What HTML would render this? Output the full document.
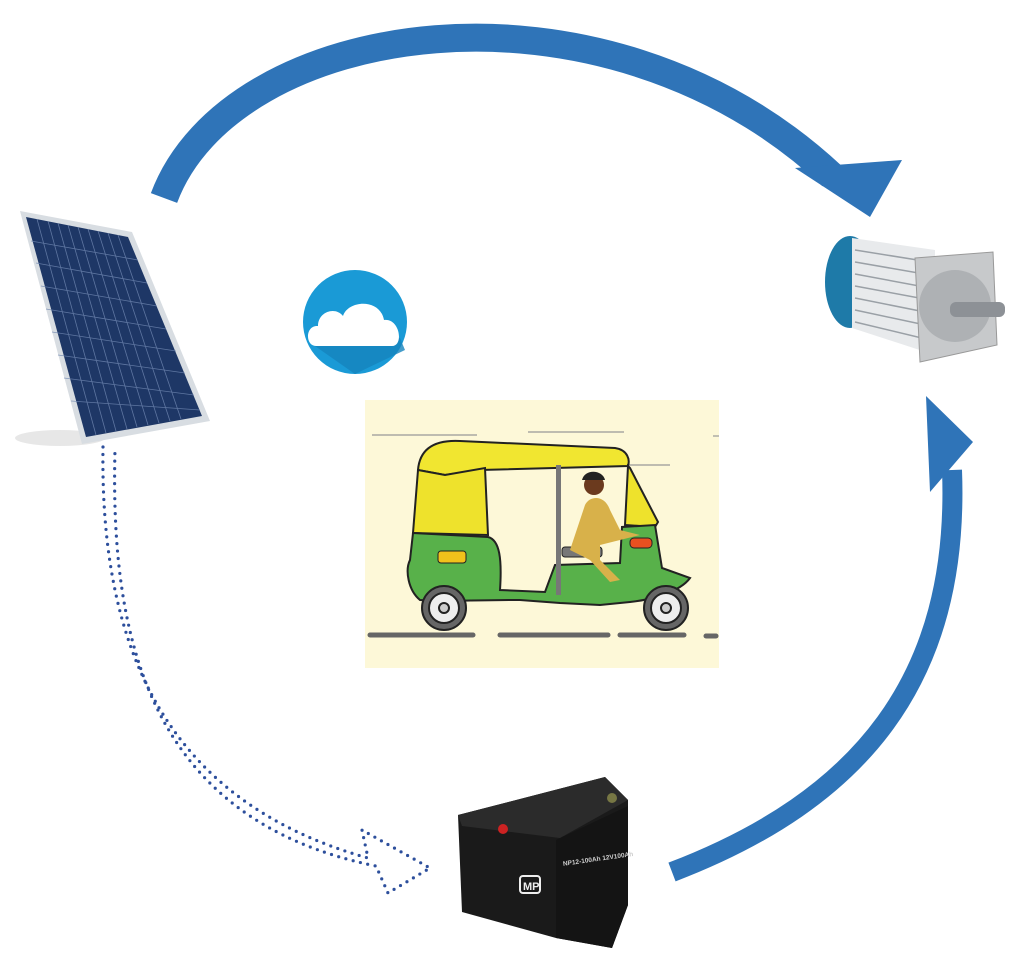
<!DOCTYPE html>
<html><head><meta charset="utf-8"><style>
html,body{margin:0;padding:0;background:#fff;}
svg{display:block;}
</style></head><body>
<svg width="1024" height="954" viewBox="0 0 1024 954" xmlns="http://www.w3.org/2000/svg">
<!-- top arrow -->
<path d="M164,198 C230,20 600,-40 832,176" fill="none" stroke="#2f74b8" stroke-width="28"/>
<polygon points="795,168 902,160 870,217" fill="#2f74b8"/>
<!-- right arrow -->
<path d="M672,872 C860,800 960,680 952,470" fill="none" stroke="#2f74b8" stroke-width="20"/>
<polygon points="926,396 973,442 930,492" fill="#2f74b8"/>
<!-- dotted arrow -->
<path d="M103,447 C100,640 160,800 368,858 L362,830 L430,868 L388,893 L376,866 C150,820 110,640 115,450" fill="none" stroke="#2d4f9c" stroke-width="3.2" stroke-linecap="round" stroke-dasharray="0 7.5"/>
<!-- solar panel -->
<ellipse cx="60" cy="438" rx="45" ry="8" fill="#ddd" opacity="0.7"/>
<polygon points="20,211 132,232 210,421 82,444" fill="#d8dde2"/>
<polygon points="26,217 128,237 202,416 86,437" fill="#1e3766"/>
<g stroke="#6f86b0" stroke-width="0.8" opacity="0.8">
<line x1="37" y1="219" x2="96" y2="435"/><line x1="48" y1="221" x2="106" y2="433"/><line x1="58" y1="223" x2="116" y2="431"/><line x1="68" y1="225" x2="127" y2="429"/><line x1="78" y1="227" x2="137" y2="427"/><line x1="88" y1="229" x2="148" y2="425"/><line x1="98" y1="231" x2="159" y2="423"/><line x1="108" y1="233" x2="170" y2="421"/><line x1="118" y1="235" x2="181" y2="419"/>
<line x1="31" y1="241" x2="138" y2="260"/><line x1="36" y1="263" x2="147" y2="283"/><line x1="41" y1="286" x2="157" y2="306"/><line x1="46" y1="309" x2="166" y2="329"/><line x1="52" y1="332" x2="176" y2="351"/><line x1="58" y1="355" x2="185" y2="373"/><line x1="64" y1="378" x2="194" y2="395"/><line x1="71" y1="401" x2="200" y2="410"/>
</g>
<!-- cloud icon -->
<circle cx="355" cy="322" r="52" fill="#1a9ad6"/>
<path d="M315,346 L355,374 L405,350 L400,338 Z" fill="#1583bd" opacity="0.8"/>
<path d="M316,346 C305,346 305,325 318,326 C318,312 335,306 343,316 C348,300 380,298 384,320 C400,318 404,346 392,346 Z" fill="#fff"/>
<!-- rickshaw image -->
<rect x="365" y="400" width="354" height="268" fill="#fdf8d8"/>
<g stroke="#999" stroke-width="1.2"><line x1="372" y1="435" x2="477" y2="435"/><line x1="528" y1="432" x2="624" y2="432"/><line x1="629" y1="465" x2="670" y2="465"/><line x1="713" y1="436" x2="719" y2="436"/></g>
<g stroke="#666" stroke-width="5" stroke-linecap="round"><line x1="370" y1="635" x2="473" y2="635"/><line x1="500" y1="635" x2="608" y2="635"/><line x1="620" y1="635" x2="684" y2="635"/><line x1="706" y1="636" x2="716" y2="636"/></g>
<g stroke="#222" stroke-width="2">
<path d="M418,470 C420,445 440,440 460,441 L615,448 C628,450 630,460 628,466 L480,470 L445,475 Z" fill="#f1e630"/>
<path d="M418,470 L445,475 L485,468 L488,535 L413,533 Z" fill="#eee22c"/>
<path d="M628,466 L630,468 L658,522 L655,527 L625,525 Z" fill="#eee22c"/>
<path d="M413,533 L488,537 C500,540 502,560 500,590 L545,592 L555,565 L620,563 L622,527 L655,525 L662,568 L690,578 C680,592 650,600 630,602 L600,605 L560,603 L520,600 C470,600 440,602 420,600 C408,590 405,570 410,560 Z" fill="#58b14a"/>
<circle cx="444" cy="608" r="22" fill="#666"/><circle cx="444" cy="608" r="15" fill="#eee"/><circle cx="444" cy="608" r="5" fill="#ccc"/>
<circle cx="666" cy="608" r="22" fill="#666"/><circle cx="666" cy="608" r="15" fill="#eee"/><circle cx="666" cy="608" r="5" fill="#ccc"/>
</g>
<rect x="556" y="465" width="5" height="130" fill="#777"/>
<rect x="438" y="551" width="28" height="12" rx="3" fill="#f1c21b" stroke="#222"/>
<rect x="630" y="538" width="22" height="10" rx="4" fill="#e85020" stroke="#222"/>
<rect x="562" y="547" width="40" height="10" rx="3" fill="#777" stroke="#222"/>
<path d="M585,505 C590,495 605,495 610,510 L620,530 L640,535 L620,540 L600,545 L600,560 L620,580 L610,582 L590,560 L570,550 Z" fill="#d8b14a"/>
<circle cx="594" cy="485" r="10" fill="#6b3a1e"/><path d="M582,480 C585,468 603,470 605,480 Z" fill="#222"/>
<!-- motor -->
<ellipse cx="850" cy="282" rx="25" ry="46" fill="#1e7aa8"/>
<path d="M852,238 L935,250 L935,355 L852,328 Z" fill="#e8eaec"/>
<g stroke="#9aa0a6" stroke-width="1.5"><line x1="855" y1="250" x2="930" y2="262"/><line x1="855" y1="262" x2="930" y2="275"/><line x1="855" y1="274" x2="930" y2="288"/><line x1="855" y1="286" x2="930" y2="300"/><line x1="855" y1="298" x2="930" y2="313"/><line x1="855" y1="310" x2="930" y2="326"/><line x1="855" y1="322" x2="930" y2="340"/></g>
<polygon points="915,258 993,252 997,345 920,362" fill="#c7c9cb" stroke="#999"/>
<circle cx="955" cy="306" r="36" fill="#aeb1b4"/>
<rect x="950" y="302" width="55" height="15" rx="6" fill="#8d9196"/>
<!-- battery -->
<polygon points="458,815 605,777 628,800 628,905 612,948 556,938 462,912" fill="#1a1a1a"/>
<polygon points="458,815 605,777 628,800 560,838 462,826" fill="#2b2b2b"/>
<polygon points="556,840 628,806 628,905 612,948 556,938" fill="#141414"/>
<circle cx="503" cy="829" r="5" fill="#c22"/>
<circle cx="612" cy="798" r="5" fill="#774"/>
<rect x="520" y="876" width="20" height="17" rx="3" fill="none" stroke="#eee" stroke-width="2"/>
<text x="523" y="890" font-family="Liberation Sans, sans-serif" font-size="11" font-weight="bold" fill="#eee">MP</text>
<g transform="rotate(-8 590 855)"><text x="562" y="862" font-family="Liberation Sans, sans-serif" font-size="6.5" font-weight="bold" fill="#ccc">NP12-100Ah 12V100Ah</text></g>
</svg>
</body></html>
